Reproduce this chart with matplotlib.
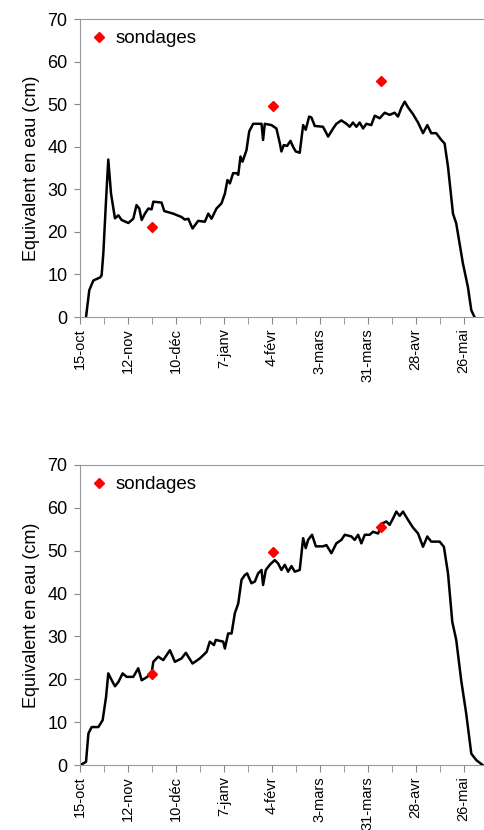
import matplotlib
matplotlib.use('Agg')
import matplotlib.pyplot as plt
from matplotlib.ticker import MultipleLocator

plt.rcParams['font.family'] = ['Liberation Sans', 'DejaVu Sans']

# days counted from 15 October
tick_labels = ['15-oct', '12-nov', '10-déc', '7-janv', '4-févr',
               '3-mars', '31-mars', '28-avr', '26-mai']

# upper panel
days_a = [3.5, 5.4, 7.8, 11.7, 12.6, 13.6, 15.2, 16.5, 18.1, 20.4, 22.4, 24.3,
          28.2, 31.1, 33, 34.6, 36, 37.9, 39.9, 41.8, 42.8, 47.6, 49.2, 54.4,
          59.3, 61.2, 63.2, 65.7, 69, 72.9, 74.9, 76.8, 79.7, 82.6, 84.6, 86.1,
          87.5, 89.4, 91.4, 92.4, 93.7, 94.9, 97.2, 98.8, 101.1, 106, 106.9,
          107.9, 111.8, 114.7, 116.7, 117.6, 119, 120.9, 122.9, 124.4, 126,
          128.3, 130.3, 131.8, 133.8, 135.1, 137.1, 141.9, 144.9, 147.8, 149.7,
          152.6, 155.6, 157.5, 159.4, 161.4, 163.3, 165.3, 167.2, 170.1, 172.1,
          175, 177.9, 180.8, 183.7, 185.7, 187.6, 189.6, 191.5, 194.4, 197.4,
          200.3, 202.8, 205.1, 208, 211, 212.9, 214.9, 217.8, 219.7, 223.6,
          226.5, 228.5, 230.4]
swe_a = [0, 6.3, 8.6, 9.3, 9.8, 14.9, 27.5, 37.0, 29, 23.2, 23.9, 22.8,
         22.1, 23.1, 26.3, 25.5, 22.8, 24.3, 25.5, 25.3, 27.1, 26.9, 24.9, 24.3,
         23.5, 22.9, 23.1, 20.8, 22.6, 22.4, 24.3, 23.1, 25.5, 26.7, 29, 32.2,
         31.4, 33.8, 33.8, 33.4, 37.7, 36.5, 39.2, 43.6, 45.4, 45.4, 41.6,
         45.4, 45.1, 44.3, 40.8, 38.9, 40.4, 40.2, 41.4, 40, 38.9,
         38.6, 45.1, 44, 47.1, 46.9, 44.9, 44.7, 42.4, 44.3, 45.4,
         46.2, 45.4, 44.7, 45.7, 44.7, 45.7, 44.3, 45.4, 45.1, 47.3,
         46.7, 48, 47.5, 48, 47.1, 49.1, 50.6, 49.3, 47.7, 45.7,
         43.2, 45.1, 43.2, 43.2, 41.6, 40.8, 35.3, 24.3, 22, 12.6,
         7.1, 1.6, 0]

# lower panel
days_b = [0, 3.5, 4.9, 6.8, 10.7, 13.2, 15.2, 16.5, 18.5, 20.4, 22.4, 24.9,
          27.2, 31.1, 34, 36, 38.9, 41.8, 42.8, 45.7, 48.6, 52.5, 55.4, 59.3,
          61.8, 65.7, 70, 73.9, 75.8, 78.2, 79.3, 83.6, 84.6, 86.5, 88.5, 90.4,
          92.4, 94.3, 96.2, 97.6, 100.1, 102.1, 104, 106, 106.9, 108.5, 110.8,
          113.7, 115.7, 117.6, 119.6, 121.5, 123.5, 125.4, 128.3, 130.3, 131.8,
          133.2, 135.5, 137.7, 141.9, 143.9, 146.8, 149.7, 152.6, 154.6, 158.5,
          160.4, 162.4, 164.3, 166.3, 169.2, 171.1, 174, 176.9, 178.9, 180.8,
          182.8, 184.7, 186.7, 188.6, 191.5, 194.4, 197.4, 200.3, 202.8, 205.1,
          210, 212.5, 214.9, 217.4, 219.7, 222.6, 225.5, 228.5, 231.4, 235.3]
swe_b = [0, 0.8, 7.4, 8.9, 8.9, 10.5, 15.9, 21.4, 19.8, 18.4, 19.4, 21.4,
         20.6, 20.6, 22.6, 19.8, 20.5, 21.4, 24.1, 25.3, 24.5, 26.8, 24.1, 24.9,
         26.2, 23.7, 24.9, 26.4, 28.8, 28, 29.2, 28.8, 27.2, 30.7, 30.7, 35.4,
         37.7, 43.2, 44.3, 44.7, 42.4, 42.8, 44.7, 45.5, 42, 45.5, 46.7,
         47.8, 47, 45.5, 46.7, 45.1, 46.4, 45.1, 45.5, 52.9, 50.6,
         52.5, 53.7, 51, 51, 51.3, 49.4, 51.7, 52.5, 53.7, 53.3,
         52.5, 53.7, 51.7, 53.7, 53.7, 54.4, 54, 56.4, 56.8, 56,
         57.5, 59.1, 58.1, 59.1, 57.2, 55.4, 54, 50.9, 53.3, 52.1,
         52.1, 50.9, 44.7, 33.4, 29.2, 19.8, 12.1, 2.7, 1.2, 0]

# snow surveys
sond_days = [41.8, 112.8, 175.6]
sond_a = [21.2, 49.6, 55.4]
sond_b = [21.3, 49.6, 55.4]

fig = plt.figure(figsize=(4.85, 8.3), dpi=100)
ax1 = fig.add_axes([0.165, 0.618, 0.835, 0.359])
ax2 = fig.add_axes([0.165, 0.078, 0.835, 0.362])

for ax, d, v, sv in [(ax1, days_a, swe_a, sond_a), (ax2, days_b, swe_b, sond_b)]:
    ax.plot(d, v, color='black', lw=1.8, zorder=2, solid_joinstyle='round')
    ax.plot(sond_days, sv, 'D', color='#ff0000', ms=5.5, ls='none',
            label='sondages', zorder=3)
    ax.set_xlim(0, 236.5)
    ax.set_ylim(0, 70)
    ax.set_yticks(range(0, 71, 10))
    ax.set_xticks([28*i for i in range(len(tick_labels))])
    ax.set_xticklabels(tick_labels, rotation=90, fontsize=10.5)
    ax.xaxis.set_minor_locator(MultipleLocator(14))
    ax.tick_params(axis='y', labelsize=13, length=4, color='#888888', pad=5)
    ax.tick_params(axis='x', which='both', length=5, color='#888888', pad=3)
    for s in ['left', 'bottom', 'top']:
        ax.spines[s].set_color('#999999')
        ax.spines[s].set_linewidth(0.8)
    ax.spines['right'].set_visible(False)
    ax.set_ylabel('Equivalent en eau (cm)', fontsize=13, labelpad=5)
    ax.legend(loc='upper left', frameon=False, fontsize=13.5, handlelength=0.8,
              handletextpad=0.5, borderaxespad=0.2, numpoints=1)

fig.savefig('out.png', dpi=100)
